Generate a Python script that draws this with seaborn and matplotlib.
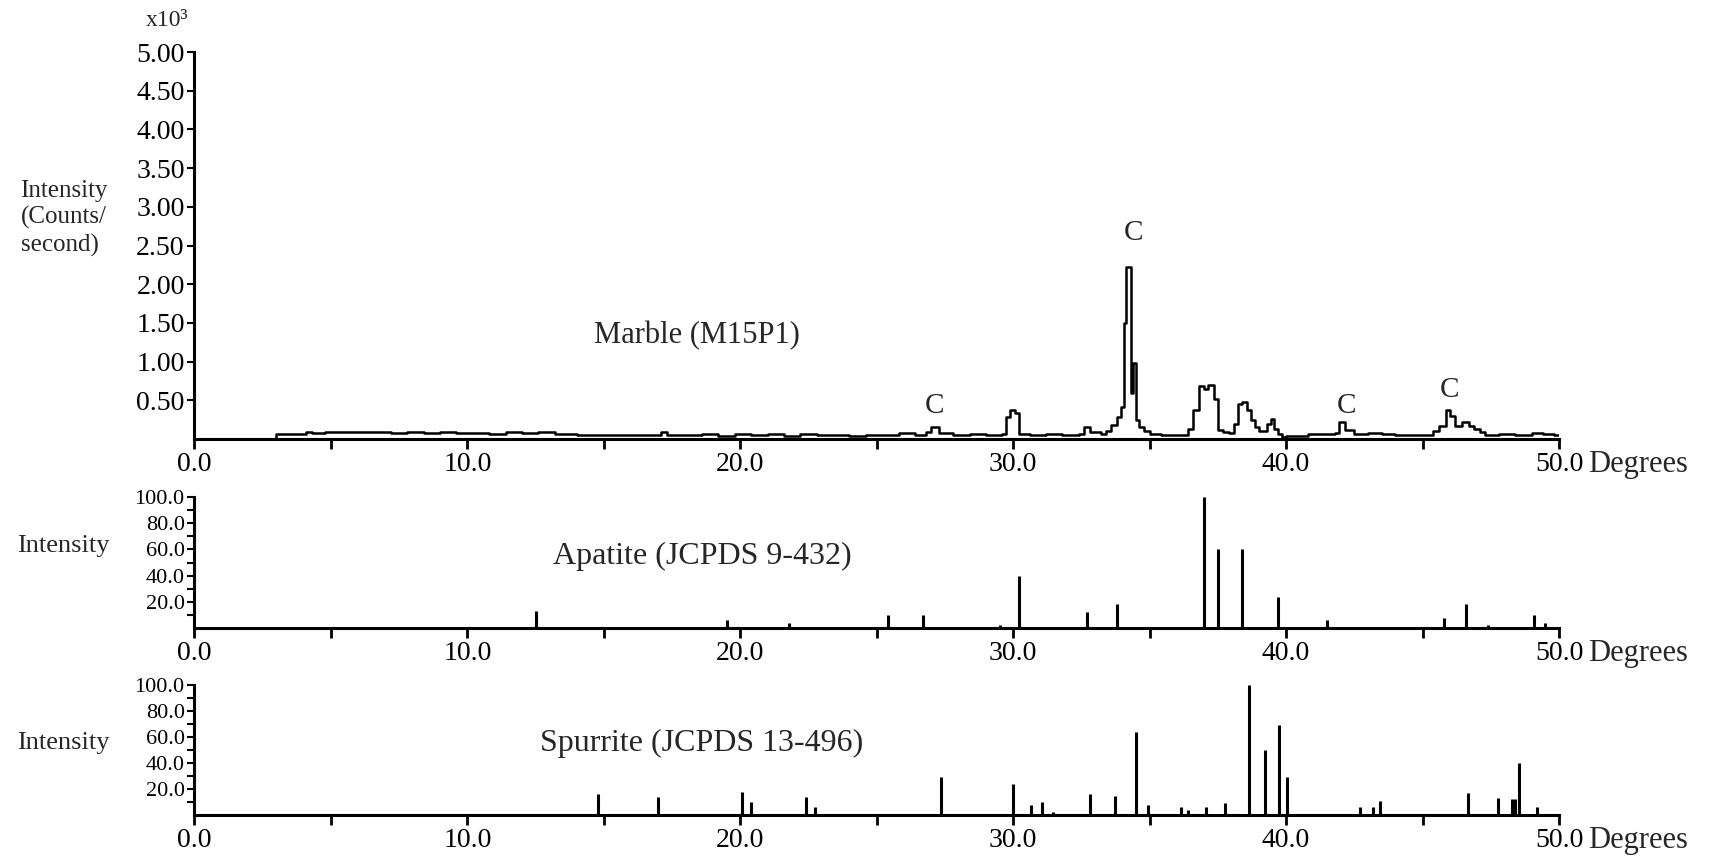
import numpy as np
import pandas as pd
import matplotlib
matplotlib.use('Agg')
import matplotlib.pyplot as plt
import seaborn as sns
from matplotlib.ticker import FixedLocator, MultipleLocator, FuncFormatter

# Marble XRD scan (degrees two-theta, counts/second)
marble_angle = [0.0, 3.0, 3.6, 4.1, 4.3, 4.8, 5.4, 6.0, 6.6, 7.2, 7.8, 8.4, 9.0, 9.6,
                10.2, 10.8, 11.4, 12.0, 12.6, 13.2, 14.0, 15.0, 16.0, 17.1, 17.3, 18.0,
                18.6, 19.2, 19.8, 20.4, 21.0, 21.6, 22.2, 22.8, 23.4, 24.0, 24.6, 25.2,
                25.8, 26.4, 26.8, 27.0, 27.3, 27.8, 28.4, 29.0, 29.6, 29.75, 29.9, 30.05,
                30.2, 30.6, 31.2, 31.8, 32.4, 32.6, 32.8, 33.2, 33.4, 33.6, 33.8, 33.95,
                34.05, 34.15, 34.3, 34.4, 34.5, 34.6, 34.8, 35.0, 35.4, 36.0, 36.4, 36.6,
                36.8, 37.0, 37.15, 37.35, 37.5, 37.7, 37.9, 38.1, 38.25, 38.4, 38.55, 38.7,
                38.85, 39.0, 39.3, 39.45, 39.55, 39.7, 39.85, 40.0, 40.3, 40.8, 41.3, 41.8,
                41.95, 42.15, 42.5, 43.0, 43.5, 44.0, 44.5, 45.0, 45.4, 45.6, 45.85, 46.0,
                46.2, 46.45, 46.7, 46.9, 47.1, 47.3, 47.8, 48.4, 49.0, 49.4, 49.8, 50.0]
marble_counts = [0, 60, 70, 95, 75, 85, 90, 85, 90, 80, 90, 80, 85, 75,
                 80, 70, 85, 75, 85, 60, 55, 55, 55, 90, 55, 55,
                 65, 45, 60, 50, 65, 45, 60, 50, 55, 45, 55, 50,
                 80, 55, 90, 150, 80, 55, 60, 50, 60, 280, 380, 330,
                 60, 50, 65, 50, 60, 160, 90, 60, 100, 180, 280, 420,
                 1500, 2220, 600, 980, 250, 150, 100, 60, 50, 50, 130, 370,
                 690, 640, 700, 520, 120, 90, 80, 200, 450, 480, 380, 250,
                 160, 100, 190, 260, 130, 60, 30, 40, 45, 60, 70, 80,
                 220, 120, 60, 80, 60, 50, 55, 50, 100, 170, 380, 300,
                 170, 220, 170, 130, 90, 50, 60, 50, 80, 60, 50, 50]

# JCPDS reference line patterns (relative intensity)
apatite_angle = [12.5, 19.5, 21.8, 25.4, 26.7, 29.5, 30.2, 32.7, 33.8, 37.0, 37.5,
                 38.4, 39.7, 41.5, 45.8, 46.6, 47.4, 49.1, 49.5]
apatite_int = [13, 6, 4, 10, 10, 2, 40, 12, 18, 100, 60, 60, 24, 6, 8, 18, 2, 10, 4]

spurrite_angle = [14.8, 17.0, 20.05, 20.4, 22.4, 22.75, 27.35, 30.0, 30.65, 31.05,
                  31.45, 32.8, 33.72, 34.5, 34.95, 36.15, 36.4, 37.05, 37.75, 38.65,
                  39.22, 39.74, 40.02, 42.7, 43.2, 43.45, 46.68, 47.76, 48.28, 48.4,
                  48.55, 49.2]
spurrite_int = [16, 14, 18, 10, 14, 6, 29, 24, 8, 10, 2, 16, 15, 64, 8, 6, 4, 6.5,
                9, 100, 50, 69, 29, 6.5, 6.5, 10.5, 17, 13, 12, 12, 40, 6.5]

# calcite peak markers
c_angle = [27.1, 34.4, 42.2, 46.0]
c_height = [430, 2660, 430, 630]

sns.set_style('ticks')
plt.rcParams['font.family'] = ['Liberation Serif', 'DejaVu Serif']

fig = plt.figure(figsize=(17.13, 8.63), dpi=100)
ax1 = fig.add_axes([0.1135, 0.4913, 0.7966, 0.4484])
ax2 = fig.add_axes([0.1135, 0.2723, 0.7966, 0.1518])
ax3 = fig.add_axes([0.1135, 0.0556, 0.7966, 0.1506])

marble = pd.DataFrame({'angle': marble_angle, 'counts': marble_counts})
sns.lineplot(data=marble, x='angle', y='counts', drawstyle='steps-post',
             estimator=None, sort=False, color='black', lw=1.8, ax=ax1)
ax2.vlines(apatite_angle, 0, apatite_int, color='black', lw=2.2)
ax3.vlines(spurrite_angle, 0, spurrite_int, color='black', lw=2.2)

for ax in (ax1, ax2, ax3):
    ax.set_xlim(0, 50)
    sns.despine(ax=ax)
    for s in ('left', 'bottom'):
        ax.spines[s].set_linewidth(2.2)
        ax.spines[s].set_color('black')
    ax.xaxis.set_major_locator(MultipleLocator(10))
    ax.xaxis.set_minor_locator(MultipleLocator(5))
    ax.xaxis.set_major_formatter(FuncFormatter(lambda v, p: f'{v:.1f}'))
    ax.tick_params(axis='x', which='both', direction='out', length=7, width=2,
                   labelsize=20, pad=2, colors='black')
    ax.tick_params(axis='y', which='both', direction='out', length=5, width=1.5,
                   colors='black', pad=2)
    ax.set_xlabel('')
    ax.set_ylabel('')
    ax.annotate('Degrees', xy=(1, 0), xycoords='axes fraction', xytext=(21, -8),
                textcoords='offset points', ha='left', va='top', fontsize=22)

ax1.set_ylim(0, 5000)
ax1.yaxis.set_major_locator(FixedLocator(np.arange(500, 5001, 500)))
ax1.yaxis.set_major_formatter(FuncFormatter(lambda v, p: f'{v / 1000:.2f}'))
ax1.tick_params(axis='y', labelsize=20)

for ax in (ax2, ax3):
    ax.set_ylim(0, 100)
    ax.yaxis.set_major_locator(FixedLocator([20, 40, 60, 80, 100]))
    ax.yaxis.set_minor_locator(FixedLocator([10, 30, 50, 70, 90]))
    ax.yaxis.set_major_formatter(FuncFormatter(lambda v, p: f'{v:.1f}'))
    ax.tick_params(axis='y', labelsize=16)

for a, h in zip(c_angle, c_height):
    ax1.text(a, h, 'C', ha='center', va='center', fontsize=21)

ax1.text(18.4, 1330, 'Marble (M15P1)', ha='center', va='center', fontsize=22)
ax2.text(18.6, 55, 'Apatite (JCPDS 9-432)', ha='center', va='center', fontsize=23)
ax3.text(18.6, 55, 'Spurrite (JCPDS 13-496)', ha='center', va='center', fontsize=23)

fig.text(0.0975, 0.976, 'x10³', ha='center', va='center', fontsize=17)
fig.text(0.012, 0.747, 'Intensity\n(Counts/\nsecond)', ha='left', va='center',
         fontsize=18, linespacing=1.25)
fig.text(0.037, 0.367, 'Intensity', ha='center', va='center', fontsize=19)
fig.text(0.037, 0.139, 'Intensity', ha='center', va='center', fontsize=19)

fig.savefig('out.png', dpi=100)
